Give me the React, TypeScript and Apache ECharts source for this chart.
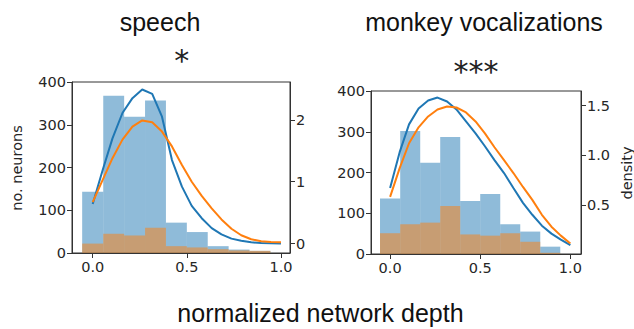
import React, { useEffect, useRef } from "react";
import * as echarts from "echarts";

// histogram bin edges (normalized network depth)
const binEdges = [-0.056, 0.056, 0.167, 0.278, 0.389, 0.5, 0.611, 0.722, 0.833, 0.944];

// speech: counts of all neurons (blue) and selective neurons (orange)
const speechAll = [143, 368, 319, 357, 71, 49, 16, 8, 5];
const speechSel = [22, 45, 41, 59, 16, 13, 9, 6, 5];

// monkey vocalizations
const monkeyAll = [136, 302, 224, 287, 130, 147, 73, 55, 18];
const monkeySel = [51, 73, 77, 118, 48, 45, 51, 30, 3];

// KDE evaluation points
const kdeX = [0, 0.053, 0.105, 0.158, 0.211, 0.263, 0.316, 0.368, 0.421, 0.474, 0.526, 0.579, 0.632, 0.684, 0.737, 0.789, 0.842, 0.895, 0.947, 1.0];

const speechKdeAll = [0.64, 1.19, 1.7, 2.11, 2.35, 2.49, 2.42, 2.05, 1.35, 0.92, 0.61, 0.41, 0.25, 0.15, 0.08, 0.045, 0.02, 0.01, 0.005, 0.0];
const speechKdeSel = [0.67, 1.03, 1.38, 1.68, 1.89, 1.99, 1.96, 1.81, 1.57, 1.27, 1.0, 0.77, 0.57, 0.39, 0.24, 0.135, 0.07, 0.037, 0.026, 0.02];

const monkeyKdeAll = [0.67, 1.03, 1.31, 1.47, 1.55, 1.58, 1.54, 1.46, 1.34, 1.22, 1.09, 0.95, 0.82, 0.67, 0.52, 0.4, 0.29, 0.21, 0.15, 0.095];
const monkeyKdeSel = [0.58, 0.87, 1.12, 1.28, 1.39, 1.46, 1.49, 1.48, 1.43, 1.34, 1.22, 1.08, 0.95, 0.82, 0.68, 0.55, 0.4, 0.28, 0.19, 0.11];

const xTicks = [0, 0.5, 1];
const speechDensityTicks = [0, 1, 2];
const monkeyDensityTicks = [0.5, 1, 1.5];

const BLUE = "#1f77b4";
const ORANGE = "#ff7f0e";
const BLUE_FILL = "rgba(31,119,180,0.5)";
const ORANGE_FILL = "rgba(255,127,14,0.5)";
const AX = "#333";
const TICK_FONT = "DejaVu Sans";
const TEXT_FONT = "Liberation Sans";

function histData(counts: number[]) {
  return counts.map((c, i) => [binEdges[i], binEdges[i + 1], c]);
}

function kdeData(ys: number[]) {
  return ys.map((y, i) => [kdeX[i], y]);
}

const renderBar = (color: string) => (params: any, api: any) => {
  const x0 = api.value(0);
  const x1 = api.value(1);
  const h = api.value(2);
  const tl = api.coord([x0, h]);
  const br = api.coord([x1, 0]);
  return {
    type: "rect",
    shape: { x: tl[0], y: tl[1], width: br[0] - tl[0], height: br[1] - tl[1] },
    style: { fill: color },
  };
};

const axisLabelStyle = { color: "#262626", fontFamily: TICK_FONT, fontSize: 14.5 };

function xAxisCfg(gridIndex: number, min: number, max: number) {
  return {
    type: "value",
    gridIndex,
    min,
    max,
    axisLine: { show: true, onZero: false, lineStyle: { color: AX, width: 1 } },
    axisTick: { show: true, length: 5, lineStyle: { color: AX }, customValues: xTicks },
    axisLabel: {
      ...axisLabelStyle,
      margin: 6,
      customValues: xTicks,
      formatter: (v: number) => v.toFixed(1),
    },
    splitLine: { show: false },
  };
}

function countAxisCfg(gridIndex: number) {
  return {
    type: "value",
    gridIndex,
    position: "left",
    min: 0,
    max: 400,
    interval: 100,
    axisLine: { show: true, onZero: false, lineStyle: { color: AX, width: 1 } },
    axisTick: { show: true, length: 5, lineStyle: { color: AX } },
    axisLabel: { ...axisLabelStyle, margin: 6 },
    splitLine: { show: false },
  };
}

function densityAxisCfg(gridIndex: number, min: number, max: number, ticks: number[], fmt: (v: number) => string) {
  return {
    type: "value",
    gridIndex,
    position: "right",
    min,
    max,
    axisLine: { show: true, onZero: false, lineStyle: { color: AX, width: 1 } },
    axisTick: { show: true, length: 5, lineStyle: { color: AX }, customValues: ticks },
    axisLabel: { ...axisLabelStyle, margin: 6, customValues: ticks, formatter: fmt },
    splitLine: { show: false },
  };
}

export default function App() {
  const ref = useRef<HTMLDivElement>(null);

  useEffect(() => {
    if (!ref.current) return;
    const chart = echarts.init(ref.current, null, { renderer: "svg" });
    const option: any = {
      animation: false,
      backgroundColor: "#ffffff",
      grid: [
        { left: 72, top: 82, width: 218, height: 171, show: true, borderColor: AX, borderWidth: 1, backgroundColor: "transparent" },
        { left: 371, top: 91, width: 210, height: 163, show: true, borderColor: AX, borderWidth: 1, backgroundColor: "transparent" },
      ],
      xAxis: [xAxisCfg(0, -0.11, 1.048), xAxisCfg(1, -0.106, 1.059)],
      yAxis: [
        countAxisCfg(0),
        densityAxisCfg(0, -0.152, 2.611, speechDensityTicks, (v: number) => String(Math.round(v))),
        countAxisCfg(1),
        densityAxisCfg(1, 0.005, 1.646, monkeyDensityTicks, (v: number) => v.toFixed(1)),
      ],
      series: [
        { type: "custom", xAxisIndex: 0, yAxisIndex: 0, renderItem: renderBar(BLUE_FILL), data: histData(speechAll), encode: { x: [0, 1], y: 2 }, clip: true, z: 1 },
        { type: "custom", xAxisIndex: 0, yAxisIndex: 0, renderItem: renderBar(ORANGE_FILL), data: histData(speechSel), encode: { x: [0, 1], y: 2 }, clip: true, z: 2 },
        { type: "line", xAxisIndex: 0, yAxisIndex: 1, data: kdeData(speechKdeAll), showSymbol: false, lineStyle: { color: BLUE, width: 2 }, itemStyle: { color: BLUE }, z: 3 },
        { type: "line", xAxisIndex: 0, yAxisIndex: 1, data: kdeData(speechKdeSel), showSymbol: false, lineStyle: { color: ORANGE, width: 2 }, itemStyle: { color: ORANGE }, z: 4 },
        { type: "custom", xAxisIndex: 1, yAxisIndex: 2, renderItem: renderBar(BLUE_FILL), data: histData(monkeyAll), encode: { x: [0, 1], y: 2 }, clip: true, z: 1 },
        { type: "custom", xAxisIndex: 1, yAxisIndex: 2, renderItem: renderBar(ORANGE_FILL), data: histData(monkeySel), encode: { x: [0, 1], y: 2 }, clip: true, z: 2 },
        { type: "line", xAxisIndex: 1, yAxisIndex: 3, data: kdeData(monkeyKdeAll), showSymbol: false, lineStyle: { color: BLUE, width: 2 }, itemStyle: { color: BLUE }, z: 3 },
        { type: "line", xAxisIndex: 1, yAxisIndex: 3, data: kdeData(monkeyKdeSel), showSymbol: false, lineStyle: { color: ORANGE, width: 2 }, itemStyle: { color: ORANGE }, z: 4 },
      ],
      graphic: [
        { type: "text", x: 160, y: 22, style: { text: "speech", font: `25px "${TEXT_FONT}"`, fill: "#111", align: "center", verticalAlign: "middle" } },
        { type: "text", x: 484, y: 22, style: { text: "monkey vocalizations", font: `25px "${TEXT_FONT}"`, fill: "#111", align: "center", verticalAlign: "middle" } },
        { type: "text", x: 181.7, y: 60, style: { text: "*", font: `30px "${TICK_FONT}"`, fill: "#222", align: "center", verticalAlign: "middle" } },
        { type: "text", x: 476, y: 71, style: { text: "***", font: `30px "${TICK_FONT}"`, fill: "#222", align: "center", verticalAlign: "middle" } },
        { type: "text", x: 320.5, y: 313, style: { text: "normalized network depth", font: `25px "${TEXT_FONT}"`, fill: "#111", align: "center", verticalAlign: "middle" } },
        { type: "text", x: 17, y: 168, rotation: Math.PI / 2, style: { text: "no. neurons", font: `14.5px "${TICK_FONT}"`, fill: "#262626", align: "center", verticalAlign: "middle" } },
        { type: "text", x: 627, y: 173, rotation: Math.PI / 2, style: { text: "density", font: `14.5px "${TICK_FONT}"`, fill: "#262626", align: "center", verticalAlign: "middle" } },
      ],
    };
    chart.setOption(option);
    return () => chart.dispose();
  }, []);

  return <div ref={ref} style={{ position: "fixed", left: 0, top: 0, width: 634, height: 329 }} />;
}
